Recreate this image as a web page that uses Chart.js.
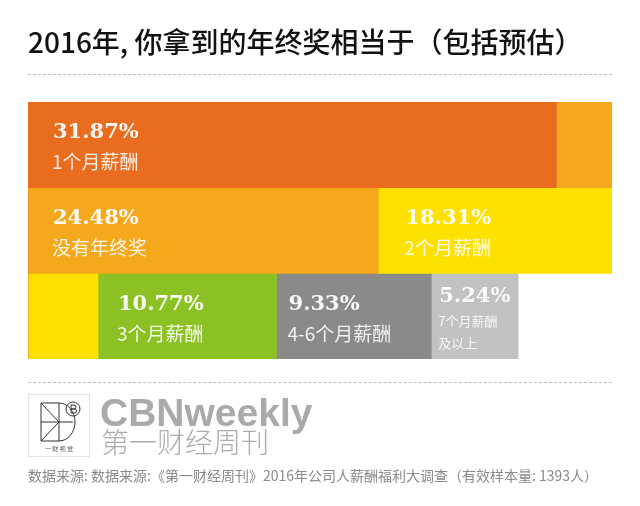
<!DOCTYPE html>
<html lang="zh">
<head>
  <meta charset="UTF-8">
  <title>2016年终奖</title>
  <script src="https://cdn.jsdelivr.net/npm/chart.js@4.4.2/dist/chart.umd.min.js"></script>
  <style>
    html, body {
      margin: 0;
      padding: 0;
      background: #fff;
    }
    .page {
      position: relative;
      width: 640px;
      height: 506px;
      overflow: hidden;
      font-family: "Noto Sans CJK SC", "Noto Sans", sans-serif;
    }
    #chart {
      position: absolute;
      left: 0;
      top: 0;
    }
    .title {
      position: absolute;
      left: 28px;
      top: 23px;
      font-size: 28px;
      font-weight: 500;
      line-height: 36px;
      color: #111;
      white-space: nowrap;
    }
    .dots {
      position: absolute;
      left: 28px;
      width: 584px;
      height: 0;
      border-top: 1px dashed #bdbdbd;
    }
    .logo {
      position: absolute;
      left: 28px;
      top: 394px;
      width: 60px;
      height: 61px;
      border: 1px solid #e2e2e2;
    }
    .brand {
      position: absolute;
      left: 100px;
      top: 392px;
      font-family: "Liberation Sans", Arial, sans-serif;
      font-weight: bold;
      font-size: 39px;
      line-height: 42px;
      color: #aaaaaa;
    }
    .brand-cn {
      position: absolute;
      left: 101px;
      top: 424px;
      font-size: 28px;
      line-height: 34px;
      font-weight: 300;
      color: #acacac;
    }
    .source {
      position: absolute;
      left: 28px;
      top: 465px;
      font-size: 14px;
      line-height: 20px;
      color: #8a8a8a;
      white-space: nowrap;
    }
  </style>
</head>
<body>
<div class="page">
  <canvas id="chart" width="640" height="506"></canvas>
  <div class="title">2016年, 你拿到的年终奖相当于（包括预估）</div>
  <div class="dots" style="top:74px"></div>
  <div class="dots" style="top:382px"></div>
  <div class="logo">
    <svg width="60" height="61" viewBox="0 0 60 61">
      <g fill="none" stroke="#333" stroke-width="1">
        <path d="M12 8 H30 A16 19 0 0 1 30 46 H12 Z"/>
        <path d="M12 8 L30 27 M12 27 H44 M12 46 L30 27 M30 8 V46"/>
        <circle cx="44" cy="14" r="7"/>
        <path d="M42 10 V18 M42 10 H45 A2 2 0 0 1 45 14 H42 M42 14 H45.5 A2 2 0 0 1 45.5 18 H42"/>
      </g>
      <text x="30" y="56" font-size="6" fill="#555" text-anchor="middle" font-family="Noto Sans CJK SC">一 财 视 觉</text>
    </svg>
  </div>
  <div class="brand">CBNweekly</div>
  <div class="brand-cn">第一财经周刊</div>
  <div class="source">数据来源: 数据来源:《第一财经周刊》2016年公司人薪酬福利大调查（有效样本量: 1393人）</div>
</div>
<script>
  // survey shares, in percent
  const categories = ['1个月薪酬', '没有年终奖', '2个月薪酬', '3个月薪酬', '4-6个月薪酬', '7个月薪酬\n及以上'];
  const shares = [31.87, 24.48, 18.31, 10.77, 9.33, 5.24];
  const rows = ['row1', 'row2', 'row3'];
  const rowCapacity = 35.22; // percent that fits on one row of the ribbon

  const colors = ['#E96C1F', '#F5A81B', '#FFE100', '#8CC124', '#8A8A8A', '#C2C2C2'];
  // label placement tweaks per segment
  const padLeft = [25, 25, 27, 20, 12, 8];
  const pctOffset = [31, 31, 31, 31, 31, 23];
  const subSize = [19, 19, 19, 19, 19, 13];

  // wrap the ribbon of shares onto the rows
  function wrap(values, cap, nRows) {
    let row = 0, used = 0;
    return values.map(function(v) {
      const pieces = new Array(nRows).fill(0);
      let left = v;
      while (left > 1e-9 && row < nRows) {
        const take = Math.min(left, cap - used);
        pieces[row] += take;
        left -= take;
        used += take;
        if (cap - used < 1e-9) { row++; used = 0; }
      }
      return pieces;
    });
  }
  const pieces = wrap(shares, rowCapacity, rows.length);

  const labelPlugin = {
    id: 'segLabels',
    afterDatasetsDraw(chart) {
      const ctx = chart.ctx;
      ctx.save();
      ctx.textBaseline = 'middle';
      ctx.textAlign = 'left';
      chart.data.datasets.forEach(function(ds, i) {
        // put the label on the larger piece of the segment
        let best = 0;
        ds.data.forEach(function(v, r) { if (v > ds.data[best]) best = r; });
        const el = chart.getDatasetMeta(i).data[best];
        const left = Math.min(el.x, el.base);
        const top = el.y - el.height / 2;
        const x = left + padLeft[i];
        ctx.fillStyle = 'rgba(255,255,255,0.95)';
        ctx.font = 'bold 21px "DejaVu Serif"';
        ctx.fillText(shares[i].toFixed(2) + '%', x, top + pctOffset[i]);
        ctx.fillStyle = 'rgba(255,255,255,0.88)';
        ctx.font = subSize[i] + 'px "Noto Sans CJK SC"';
        const lines = categories[i].split('\n');
        const lh = subSize[i] + 9;
        lines.forEach(function(line, k) {
          const y = lines.length > 1 ? top + 48 + k * lh : top + 60;
          ctx.fillText(line, x - 1, y);
        });
      });
      ctx.restore();
    }
  };

  new Chart(document.getElementById('chart'), {
    type: 'bar',
    data: {
      labels: rows,
      datasets: shares.map(function(v, i) {
        return {
          label: categories[i],
          data: pieces[i],
          backgroundColor: colors[i],
          borderWidth: 0,
          categoryPercentage: 1,
          barPercentage: 1
        };
      })
    },
    options: {
      indexAxis: 'y',
      responsive: false,
      animation: false,
      layout: { padding: { left: 28, right: 28, top: 102, bottom: 147 } },
      plugins: {
        legend: { display: false },
        tooltip: { enabled: false }
      },
      scales: {
        x: { stacked: true, min: 0, max: rowCapacity, display: false },
        y: { stacked: true, display: false }
      }
    },
    plugins: [labelPlugin]
  });
</script>
</body>
</html>
